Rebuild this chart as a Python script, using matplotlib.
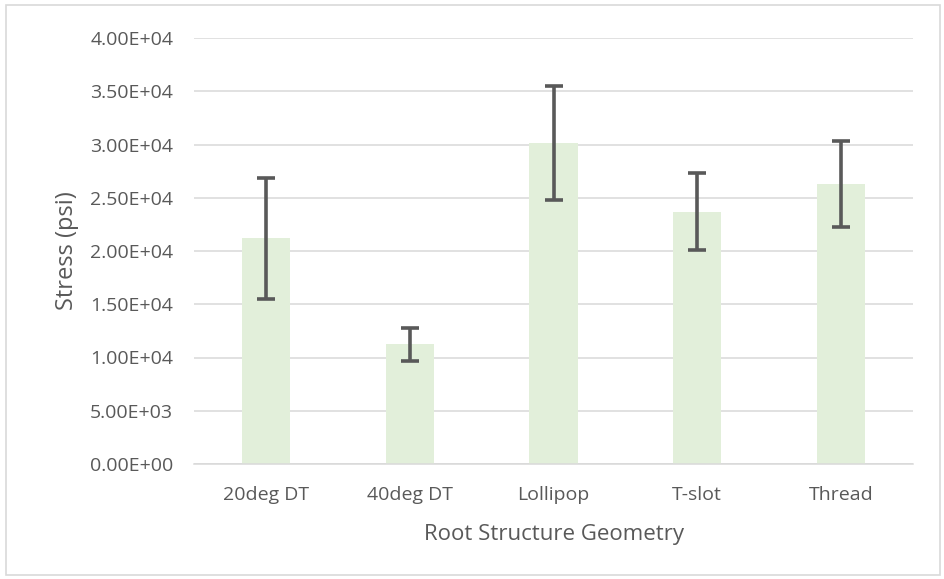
import matplotlib.pyplot as plt
from matplotlib.patches import Rectangle

categories = ['20deg DT', '40deg DT', 'Lollipop', 'T-slot', 'Thread']
stress = [21200, 11250, 30100, 23700, 26300]
stress_err = [5700, 1550, 5350, 3650, 4050]
y_ticks = [0, 5000, 10000, 15000, 20000, 25000, 30000, 35000, 40000]

plt.rcParams['font.family'] = ['Open Sans', 'DejaVu Sans']

fig = plt.figure(figsize=(9.44, 5.79), dpi=100)
ax = fig.add_axes([194 / 944, 1 - 464 / 579, 719 / 944, 426 / 579])

# border round the whole chart
fig.patches.append(Rectangle((6 / 944, 4 / 579), 934 / 944, 570 / 579,
                             transform=fig.transFigure, fill=False,
                             edgecolor='#d9d9d9', linewidth=1.2))

x = range(len(categories))
ax.bar(x, stress, width=0.335, color='#e2efda', zorder=2)
ax.errorbar(x, stress, yerr=stress_err, fmt='none', ecolor='#595959',
            elinewidth=2.6, capsize=6.5, capthick=2.6, zorder=3)

ax.set_xlim(-0.5, 4.5)
ax.set_ylim(0, 40000)
ax.set_yticks(y_ticks)
ax.set_yticklabels([f'{t:.2E}' for t in y_ticks])
ax.set_xticks(list(x))
ax.set_xticklabels(categories)
ax.grid(axis='y', color='#d9d9d9', linewidth=1.1, zorder=0)
for s in ['top', 'right', 'left']:
    ax.spines[s].set_visible(False)
ax.spines['bottom'].set_color('#d9d9d9')
ax.spines['bottom'].set_linewidth(1.1)
ax.tick_params(axis='both', length=0, labelsize=14, colors='#595959')
ax.tick_params(axis='y', pad=15)
ax.tick_params(axis='x', pad=16)

ax.set_xlabel('Root Structure Geometry', fontsize=16, color='#595959', labelpad=14)
ax.set_ylabel('Stress (psi)', fontsize=17, color='#595959', labelpad=8)

fig.savefig('out.png', dpi=100)
